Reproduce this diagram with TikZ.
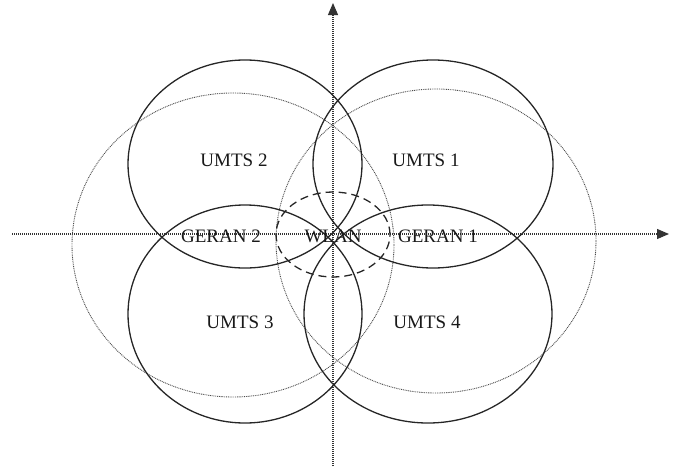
\documentclass[tikz,border=0pt]{standalone}
\usepackage{fontspec}
\setmainfont{Liberation Serif}
\usetikzlibrary{arrows.meta}
\begin{document}
\begin{tikzpicture}[x=1pt,y=-1pt,
  cell/.style={line width=1.3pt,draw=black!85},
  geran/.style={line width=0.9pt,draw=black!70,dash pattern=on 0.9pt off 0.9pt},
  wlan/.style={line width=1.3pt,draw=black!85,dash pattern=on 8pt off 5pt},
  axis/.style={line width=1.1pt,draw=black!80,dash pattern=on 1pt off 1pt,-{Triangle[length=12pt,width=10pt]}},
  lbl/.style={font=\fontsize{19}{21}\selectfont,inner sep=0pt,text=black!90}]
\useasboundingbox (0,0) rectangle (678,469);
% axes
\coordinate (xl) at (12,234);
\coordinate (xr) at (669,234);
\coordinate (yb) at (333,466);
\coordinate (yt) at (333,3);
\draw[axis] (xl) -- (xr);
\draw[axis] (yb) -- (yt);
% GERAN cells (dotted)
\draw[geran] (233,245) ellipse [x radius=161pt, y radius=152pt];
\draw[geran] (436,241) ellipse [x radius=160pt, y radius=152pt];
% UMTS cells
\draw[cell] (245,164) ellipse [x radius=117pt, y radius=104pt];
\draw[cell] (433,164) ellipse [x radius=120pt, y radius=104pt];
\draw[cell] (245,314) ellipse [x radius=117pt, y radius=109pt];
\draw[cell] (428,314) ellipse [x radius=124pt, y radius=109pt];
% WLAN
\draw[wlan] (333,234.5) ellipse [x radius=57pt, y radius=42.5pt];
% labels
\node[lbl] (u2) at (234,160) {UMTS 2};
\node[lbl] (u1) at (426,160) {UMTS 1};
\node[lbl] (g2) at (221,236) {GERAN 2};
\node[lbl] (w) at (333,236) {WLAN};
\node[lbl] (g1) at (438,236) {GERAN 1};
\node[lbl] (u3) at (240,322) {UMTS 3};
\node[lbl] (u4) at (427,322) {UMTS 4};
\end{tikzpicture}
\end{document}
